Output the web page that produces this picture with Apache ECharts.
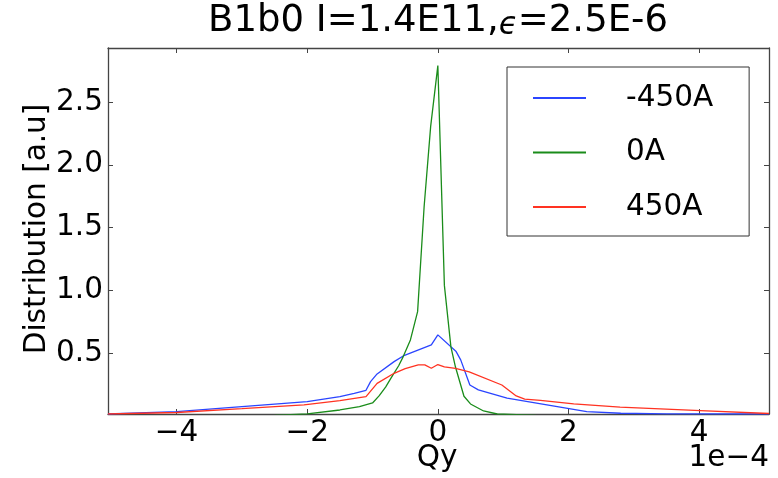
<!DOCTYPE html>
<html>
<head>
<meta charset="utf-8">
<script src="https://cdn.jsdelivr.net/npm/echarts@6/dist/echarts.min.js"></script>
<style>
html,body{margin:0;padding:0;background:#fff;}
#chart{width:778px;height:478px;}
</style>
</head>
<body>
<div id="chart"></div>
<script>
// Qy in units of 1e-4
var seriesNames = ['-450A', '0A', '450A'];
var seriesColors = ['#2b45ff', '#1a8c1a', '#ff3322'];

var qyNeg450 = [-5.05, -4.0, -3.0, -2.0, -1.5, -1.28, -1.1, -1.03, -0.93, -0.67, -0.53, -0.1, 0.0, 0.28, 0.35, 0.49, 0.62, 1.06, 1.67, 2.28, 2.8, 3.5, 5.07];
var distNeg450 = [0.016, 0.035, 0.074, 0.114, 0.154, 0.181, 0.205, 0.274, 0.335, 0.433, 0.478, 0.566, 0.646, 0.513, 0.447, 0.247, 0.208, 0.142, 0.088, 0.035, 0.022, 0.017, 0.016];

var qy0 = [-5.05, -3.0, -2.5, -2.0, -1.5, -1.2, -1.0, -0.9, -0.8, -0.72, -0.6, -0.53, -0.42, -0.31, -0.21, -0.11, 0.0, 0.1, 0.2, 0.27, 0.4, 0.5, 0.7, 0.91, 1.5, 5.07];
var dist0 = [0.0, 0.0, 0.005, 0.017, 0.048, 0.075, 0.104, 0.16, 0.23, 0.30, 0.40, 0.473, 0.606, 0.831, 1.668, 2.306, 2.79, 1.04, 0.55, 0.39, 0.157, 0.096, 0.04, 0.016, 0.005, 0.0];

var qyPos450 = [-5.05, -4.0, -3.0, -2.05, -1.5, -1.1, -0.93, -0.67, -0.5, -0.3, -0.2, -0.1, 0.0, 0.1, 0.27, 0.48, 0.98, 1.2, 1.33, 1.57, 2.08, 2.79, 4.02, 5.07];
var distPos450 = [0.016, 0.028, 0.058, 0.088, 0.122, 0.154, 0.26, 0.34, 0.378, 0.407, 0.407, 0.38, 0.41, 0.392, 0.38, 0.352, 0.247, 0.16, 0.135, 0.124, 0.096, 0.07, 0.043, 0.02];

var xTicks = [-4, -2, 0, 2, 4];
var yTicks = [0.5, 1.0, 1.5, 2.0, 2.5];

var titleText = 'B1b0 I=1.4E11,';
var titleEps = 'ϵ';
var titleRest = '=2.5E-6';
var xLabel = 'Qy';
var xOffsetText = '1e−4';
var yLabel = 'Distribution [a.u]';

function zip(xs, ys) { return xs.map(function (x, i) { return [x, ys[i]]; }); }

var FONT = 'DejaVu Sans';
var axisColor = '#444';
var xMin = -5.05, xMax = 5.07, yMin = 0.016, yMax = 2.93;

function fmtX(v) { return v < 0 ? '−' + Math.abs(v) : String(v); }

var chart = echarts.init(document.getElementById('chart'), null, {renderer: 'canvas'});
var option = {
  animation: false,
  backgroundColor: '#fff',
  title: {
    text: titleText + '{e|' + titleEps + '}' + titleRest,
    left: 438,
    textAlign: 'center',
    top: 2,
    padding: 0,
    textStyle: {
      fontFamily: FONT, fontSize: 37, fontWeight: 'normal', color: '#000',
      rich: { e: { fontFamily: FONT, fontSize: 31, fontStyle: 'italic', color: '#000', padding: [8, 0, 0, 0] } }
    }
  },
  grid: { left: 108, right: 9, top: 48, bottom: 64, containLabel: false },
  legend: {
    orient: 'vertical',
    left: 507, top: 67,
    data: seriesNames.map(function (n) { return { name: n, icon: 'rect' }; }),
    itemWidth: 53, itemHeight: 2, itemGap: 24.5,
    padding: [16, 36, 14, 26],
    borderColor: '#333', borderWidth: 1,
    textStyle: { fontFamily: FONT, fontSize: 29.5, color: '#000', lineHeight: 30, padding: [0, 0, 0, 35] }
  },
  xAxis: [{
    type: 'value', min: xMin, max: xMax, position: 'bottom',
    axisLine: { show: true, onZero: false, lineStyle: { color: axisColor, width: 1.3 } },
    axisTick: { show: true, inside: true, length: 5, customValues: xTicks, lineStyle: { color: axisColor } },
    axisLabel: { show: true, customValues: xTicks, formatter: fmtX, margin: 4, fontFamily: FONT, fontSize: 29.5, color: '#000' },
    splitLine: { show: false }
  }, {
    type: 'value', min: xMin, max: xMax, position: 'top',
    axisLine: { show: true, onZero: false, lineStyle: { color: axisColor, width: 1.3 } },
    axisTick: { show: true, inside: true, length: 5, customValues: xTicks, lineStyle: { color: axisColor } },
    axisLabel: { show: false },
    splitLine: { show: false }
  }],
  yAxis: [{
    type: 'value', min: yMin, max: yMax, position: 'left',
    axisLine: { show: true, onZero: false, lineStyle: { color: axisColor, width: 1.3 } },
    axisTick: { show: true, inside: true, length: 5, customValues: yTicks, lineStyle: { color: axisColor } },
    axisLabel: { show: true, customValues: yTicks, formatter: function (v) { return v.toFixed(1); }, margin: 5, fontFamily: FONT, fontSize: 29.5, color: '#000' },
    splitLine: { show: false }
  }, {
    type: 'value', min: yMin, max: yMax, position: 'right',
    axisLine: { show: true, onZero: false, lineStyle: { color: axisColor, width: 1.3 } },
    axisTick: { show: true, inside: true, length: 5, customValues: yTicks, lineStyle: { color: axisColor } },
    axisLabel: { show: false },
    splitLine: { show: false }
  }],
  graphic: [
    { type: 'text', x: 437, y: 458, style: { text: xLabel, fontFamily: FONT, fontSize: 29.5, fill: '#000', textAlign: 'center', textVerticalAlign: 'middle' } },
    { type: 'text', x: 769, y: 458, style: { text: xOffsetText, fontFamily: FONT, fontSize: 29.5, fill: '#000', textAlign: 'right', textVerticalAlign: 'middle' } },
    { type: 'text', x: 37, y: 229, rotation: Math.PI / 2, style: { text: yLabel, fontFamily: FONT, fontSize: 29.5, fill: '#000', textAlign: 'center', textVerticalAlign: 'middle' } }
  ],
  series: [
    { name: seriesNames[0], type: 'line', xAxisIndex: 0, yAxisIndex: 0, data: zip(qyNeg450, distNeg450), symbol: 'none', showSymbol: false, clip: true, lineStyle: { color: seriesColors[0], width: 1.3 }, itemStyle: { color: seriesColors[0] } },
    { name: seriesNames[1], type: 'line', xAxisIndex: 0, yAxisIndex: 0, data: zip(qy0, dist0), symbol: 'none', showSymbol: false, clip: true, lineStyle: { color: seriesColors[1], width: 1.3 }, itemStyle: { color: seriesColors[1] } },
    { name: seriesNames[2], type: 'line', xAxisIndex: 0, yAxisIndex: 0, data: zip(qyPos450, distPos450), symbol: 'none', showSymbol: false, clip: true, lineStyle: { color: seriesColors[2], width: 1.3 }, itemStyle: { color: seriesColors[2] } }
  ]
};
chart.setOption(option);
</script>
</body>
</html>
